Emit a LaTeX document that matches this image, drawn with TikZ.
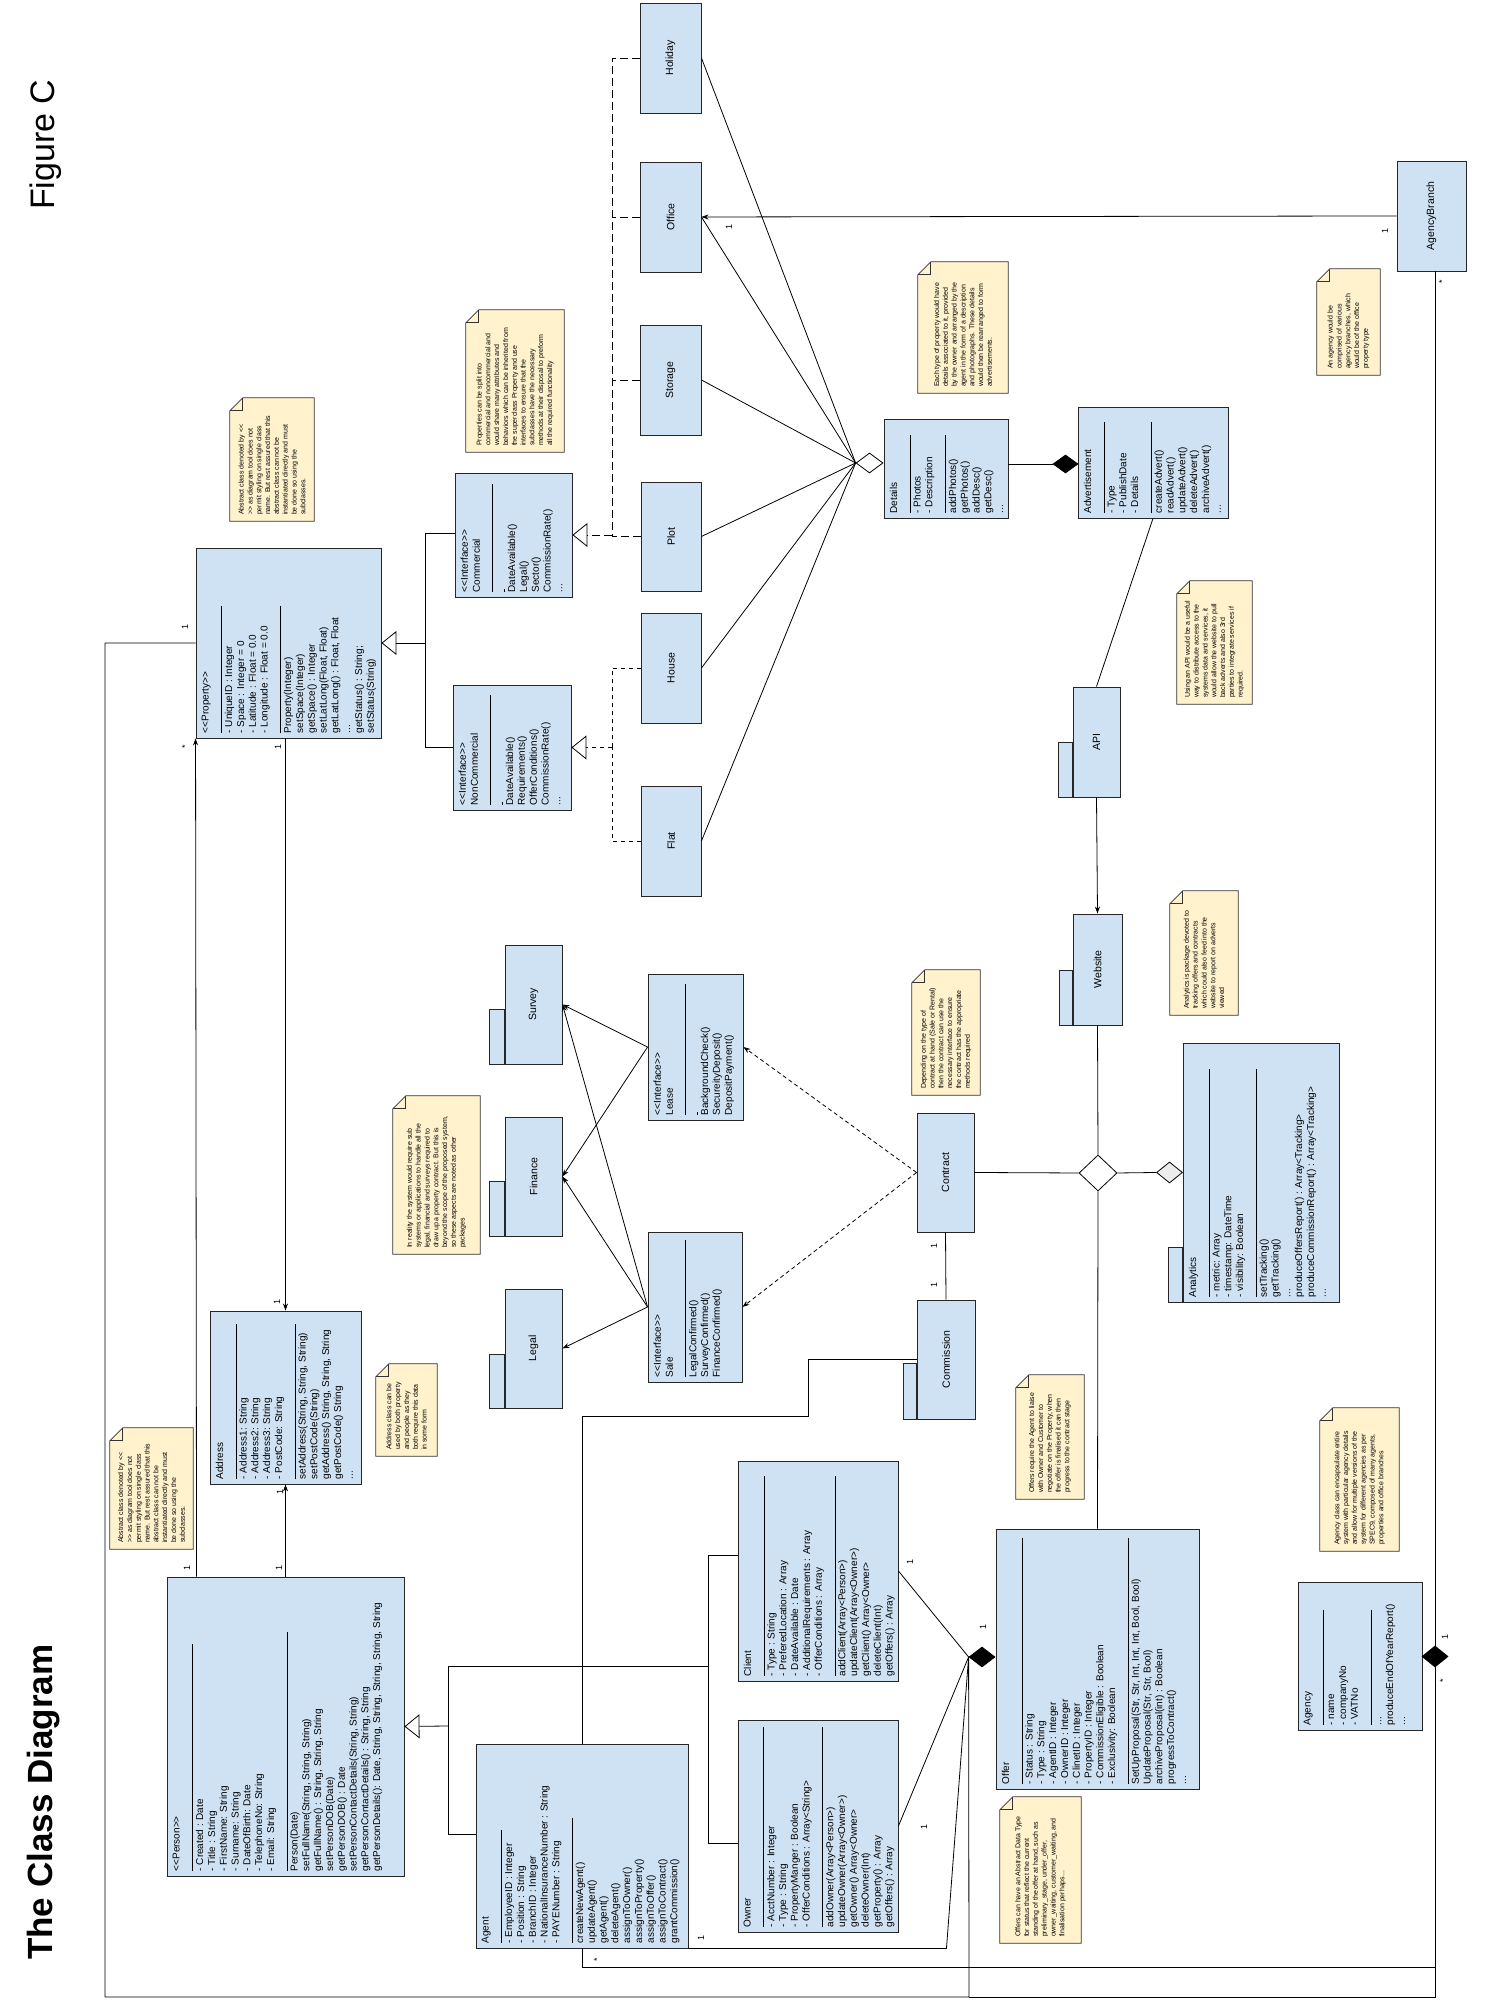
\documentclass[tikz,border=0pt]{standalone}
\usepackage{fontspec}
\setmainfont{Liberation Sans}
\usetikzlibrary{calc,shapes.geometric,arrows.meta}
\definecolor{clsfill}{HTML}{CFE2F3}
\definecolor{notefill}{HTML}{FFF2CC}
\newcommand{\opst}{<\kern0pt<}
\newcommand{\clst}{>\kern0pt>}
\newcommand{\clsep}[1]{\rule[-1.5pt]{#1pt}{0.6pt}}
\newcommand{\notebox}[5]{%
  \node[note, minimum width=#3pt, minimum height=#4pt] (#1) at (#2) {};
  \filldraw[paper] (#1.south west) -- (#1.north west) -- ($(#1.north east)+(-13,0)$)
    -- ($(#1.north east)+(0,-13)$) -- (#1.south east) -- cycle;
  \draw[paper, fill=none] ($(#1.north east)+(-13,0)$) -- ($(#1.north east)+(-13,-13)$)
    -- ($(#1.north east)+(0,-13)$);
  \node[notetxt] (#1t) at ($(#1.west)+(6,0)$) {#5};}
\begin{document}
\begin{tikzpicture}[x=1pt, y=1pt, rotate=90, transform shape]
  \tikzstyle{cls} = [rectangle, draw=black!85, line width=0.9pt, fill=clsfill, inner sep=0pt]
  \tikzstyle{pkg} = [cls, font=\fontsize{10.5}{12}\selectfont]
  \tikzstyle{pkgtab} = [draw=black!85, line width=0.9pt, fill=clsfill]
  \tikzstyle{txt} = [anchor=north west, align=left, inner sep=0pt, font=\fontsize{10}{11.8}\selectfont]
  \tikzstyle{note} = [rectangle, inner sep=0pt]
  \tikzstyle{paper} = [draw=black!80, line width=0.8pt, fill=notefill]
  \tikzstyle{notetxt} = [anchor=west, align=left, inner sep=0pt, font=\fontsize{7}{8.8}\selectfont]
  \tikzstyle{mult} = [inner sep=0pt, font=\fontsize{9}{10}\selectfont]
  \tikzstyle{link} = [draw=black, line width=0.8pt]
  \tikzstyle{dep} = [link, -{Stealth[length=7pt,width=5pt]}]
  \tikzstyle{depd} = [dep, dash pattern=on 4pt off 3pt]
  \tikzstyle{gen} = [link, -{Triangle[open, length=15pt, width=24pt]}]
  \tikzstyle{real} = [link, dash pattern=on 8pt off 4pt]
  \tikzstyle{realb} = [link, dash pattern=on 4pt off 4pt]
  \tikzstyle{dia} = [diamond, draw=black, line width=0.8pt, fill=white, inner sep=0pt]

  \fill[white] (0,0) rectangle (2000,-1490);
  \useasboundingbox (0,0) rectangle (2000,-1490);

  \node[anchor=base west, inner sep=0pt, font=\bfseries\fontsize{35}{40}\selectfont] (title) at (40,-52) {The Class Diagram};
  \node[anchor=base west, inner sep=0pt, font=\fontsize{34}{40}\selectfont] (figlabel) at (1790,-54) {Figure C};

  % notes
  \notebox{nprops}{1619,-515}{142}{98}{Properties can be split into\\ commercial and noncommercial and\\ would share many attributes and\\ behaviors which can be inherited from\\ the superclass Property and use\\ interfaces to ensure that the\\ subclasses have the necessary\\ methods at their disposal to preform\\ all the required functionality}
  \notebox{nabsprop}{1540.5,-272}{123}{84}{Abstract class denoted by \opst\\ \clst{} as diagram tool does not\\ permit styling on single class\\ name. But rest assured that this\\ abstract class can not be\\ instantiated directly and must\\ be done so using the\\ subclasses.}
  \notebox{nabsperson}{511.5,-151.5}{121}{83}{Abstract class denoted by \opst\\ \clst{} as diagram tool does not\\ permit styling on single class\\ name. But rest assured that this\\ abstract class can not be\\ instantiated directly and must\\ be done so using the\\ subclasses.}
  \notebox{naddress}{590,-406.5}{92}{61}{Address class can be\\ used by both property\\ and people as they\\ both require this data\\ in some form}
  \notebox{nlegal}{825,-436.5}{158}{87}{In reality the system would require sub\\ systems or applications to handle all the\\ legal, financial and surveys required to\\ draw up a property contract. But this is\\ beyond the scope of the proposed system,\\ so these aspects are noted as other\\ packages}
  \notebox{ndepend}{967.5,-946}{125}{68}{Depending on the type of\\ contract at hand (Sale or Rental)\\ then the contract can use the\\ necessary interface to ensure\\ the contract has the appropriate\\ methods required}
  \notebox{nanalytics}{1047,-1204}{124}{68}{Analytics is package devoted to\\ tracking offers and contracts\\ which could also feed into the\\ website to report on adverts\\ viewed}
  \notebox{ndetails}{1672.5,-963}{131}{90}{Each type of property would have\\ details associated to it, provided\\ by the owner and arranged by the\\ agent in the form of a description\\ and photographs. These details\\ would then be rearranged to form\\ advertisements.}
  \notebox{napi}{1357.5,-1214.5}{123}{75}{Using an API would be a useful\\ way to distribute access to the\\ systems data and services, it\\ would allow the website to pull\\ back adverts and also 3rd\\ parties to integrate services if\\ required.}
  \notebox{nbranch}{1678,-1348.5}{106}{63}{An agency would be\\ comprised of various\\ agency branches, which\\ would be of the office\\ property type}
  \notebox{noffers}{563,-1050}{124}{68}{Offers require the Agent to liaise\\ with Owner and Customer to\\ negotiate on the Property, when\\ the offer is finalised it can then\\ progress to the contract stage}
  \notebox{nstatus}{130,-1040.5}{146}{81}{Offers can have an Abstract Data Type\\ for status that reflect the current\\ standing of the offer at hand, such as\\ preliminary\_stage, under\_offer,\\ owner\_waiting, customer\_waiting, and\\ finalisation perhaps...}
  \notebox{nagency}{520.5,-1359.5}{143}{79}{Agency class can encapsulate entire\\ system with particular agency details\\ and allow for multiple versions of the\\ system for different agencies as per\\ SPEC9, composed of many agents,\\ properties and office branches}

  % classes
  \node[cls, minimum width=299pt, minimum height=237pt] (person) at (273.5,-285.5) {};
  \node[txt] (persont) at ($(person.north west)+(5,-6)$) {\opst Person\clst\\ \clsep{227}\\ - Created : Date\\ - Title : String\\ - FirstName: String\\ - Surname: String\\ - DateOfBirth: Date\\ - TelephoneNo: String\\ - Email: String\\ \clsep{239}\\ Person(Date)\\ setFullName(String, String, String)\\ getFullName() : String, String, String\\ setPersonDOB(Date)\\ getPersonDOB() : Date\\ setPersonContactDetails(String, String)\\ getPersonContactDetails() : String, String\\ getPersonDetails(): Date, String, String, String, String, String};

  \node[cls, minimum width=204pt, minimum height=212pt] (agent) at (154,-582) {};
  \node[txt] (agentt) at ($(agent.north west)+(5,-6)$) {Agent\\ \clsep{113}\\ - EmployeeID : Integer\\ - Position : String\\ - BranchID : Integer\\ - NationalInsuranceNumber : String\\ - PAYENumber : String\\ \clsep{125}\\ createNewAgent()\\ updateAgent()\\ getAgent()\\ deleteAgent()\\ assignToOwner()\\ assignToProperty()\\ assignToOffer()\\ assignToContract()\\ grantCommission()};

  \node[cls, minimum width=220pt, minimum height=160pt] (client) at (429,-818) {};
  \node[txt] (clientt) at ($(client.north west)+(5,-6)$) {Client\\ \clsep{200}\\ - Type : String\\ - PreferedLocation : Array\\ - DateAvailable : Date\\ - AdditionalRequirements : Array\\ - OfferConditions : Array\\ \clsep{200}\\ addClient(Array<Person>)\\ updateClient(Array<Owner>)\\ getClient() Array<Owner>\\ deleteClient(Int)\\ getOffers() : Array};

  \node[cls, minimum width=212pt, minimum height=160pt] (owner) at (174,-818) {};
  \node[txt] (ownert) at ($(owner.north west)+(5,-6)$) {Owner\\ \clsep{200}\\ - AcctNumber : Integer\\ - Type : String\\ - PropertyManger : Boolean\\ - OfferConditions : Array<String>\\ \clsep{200}\\ addOwner(Array<Person>)\\ updateOwner(Array<Owner>)\\ getOwner() Array<Owner>\\ deleteOwner(Int)\\ getProperty() : Array\\ getOffers() : Array};

  \node[cls, minimum width=260pt, minimum height=203pt] (offer) at (341,-1097.5) {};
  \node[txt] (offert) at ($(offer.north west)+(5,-6)$) {Offer\\ \clsep{246}\\ - Status : String\\ - Type : String\\ - AgentID : Integer\\ - OwnerID : Integer\\ - ClinetID : Integer\\ - PropertyID : Integer\\ - CommissionEligible : Boolean\\ - Exclusivity: Boolean\\ \clsep{246}\\ SetUpProposal(Str, Str, Int, Int, Int, Bool, Bool)\\ UpdateProposal(Str, Str, Bool)\\ archiveProposal(int) : Boolean\\ progressToContract()\\ ...};

  \node[cls, minimum width=148pt, minimum height=124pt] (agency) at (344,-1360) {};
  \node[txt] (agencyt) at ($(agency.north west)+(5,-6)$) {Agency\\ \clsep{115}\\ - name\\ - companyNo\\ - VATNo\\ \clsep{115}\\ ...\\ produceEndOfYearReport()\\ ...};

  \node[cls, minimum width=173pt, minimum height=151pt] (address) at (602.5,-285.5) {};
  \node[txt] (addresst) at ($(address.north west)+(5,-6)$) {Address\\ \clsep{155}\\ - Address1: String\\ - Address2: String\\ - Address3: String\\ - PostCode: String\\ \clsep{155}\\ setAddress(String, String, String)\\ setPostCode(String)\\ getAddress() String, String, String\\ getPostCode() String\\ ...};

  \node[cls, minimum width=190pt, minimum height=185pt] (property) at (1357,-288.5) {};
  \node[txt] (propertyt) at ($(property.north west)+(5,-6)$) {\opst Property\clst\\ \clsep{127}\\ - UniqueID : Integer\\ - Space : Integer = 0\\ - Latitude : Float = 0.0\\ - Longitude : Float = 0.0\\ \clsep{127}\\ Property(Integer)\\ setSpace(Integer)\\ getSpace() : Integer\\ setLatLong(Float, Float)\\ getLatLong() : Float, Float\\ ...\\ getStatus() : String;\\ setStatus(String)};

  \node[cls, minimum width=124pt, minimum height=117pt] (commercial) at (1465,-513.5) {};
  \node[txt] (commercialt) at ($(commercial.north west)+(5,-6)$) {\opst Interface\clst\\ Commercial\\ \clsep{108}\\ \clsep{3}\\ DateAvailable()\\ Legal()\\ Sector()\\ CommissionRate()\\ ...};

  \node[cls, minimum width=125pt, minimum height=118pt] (noncommercial) at (1252.5,-512) {};
  \node[txt] (noncommercialt) at ($(noncommercial.north west)+(5,-6)$) {\opst Interface\clst\\ NonCommercial\\ \clsep{110}\\ \clsep{3}\\ DateAvailable()\\ Requirements()\\ OfferConditions()\\ CommissionRate()\\ ...};

  \node[cls, minimum width=146pt, minimum height=95pt] (lease) at (953,-695.5) {};
  \node[txt] (leaset) at ($(lease.north west)+(5,-6)$) {\opst Interface\clst\\ Lease\\ \clsep{131}\\ \clsep{3}\\ BackgroundCheck()\\ SecureityDeposit()\\ DepositPayment()};

  \node[cls, minimum width=150pt, minimum height=94pt] (sale) at (693,-695) {};
  \node[txt] (salet) at ($(sale.north west)+(5,-6)$) {\opst Interface\clst\\ Sale\\ \clsep{137}\\ LegalConfirmed()\\ SurveyConfirmed()\\ FinanceConfirmed()};

  \node[cls, minimum width=99pt, minimum height=124pt] (details) at (1531.5,-946) {};
  \node[txt] (detailst) at ($(details.north west)+(5,-6)$) {Details\\ \clsep{78}\\ - Photos\\ - Description\\ \clsep{78}\\ addPhotos()\\ getPhotos()\\ addDesc()\\ getDesc()\\ ...};

  \node[cls, minimum width=111pt, minimum height=150pt] (advertisement) at (1537.5,-1153) {};
  \node[txt] (advertisementt) at ($(advertisement.north west)+(5,-6)$) {Advertisement\\ \clsep{91}\\ - Type\\ - PublishDate\\ - Details\\ \clsep{91}\\ createAdvert()\\ readAdvert()\\ updateAdvert()\\ deleteAdvert()\\ archiveAdvert()\\ ...};

  % property types
  \node[pkg, minimum width=110pt, minimum height=61pt] (holiday) at (1942,-670.5) {Holiday};
  \node[pkg, minimum width=110pt, minimum height=61pt] (office) at (1783,-670.5) {Office};
  \node[pkg, minimum width=110pt, minimum height=61pt] (storage) at (1620,-670.5) {Storage};
  \node[pkg, minimum width=109pt, minimum height=60pt] (plot) at (1463.5,-671) {Plot};
  \node[pkg, minimum width=110pt, minimum height=60pt] (house) at (1332,-671) {House};
  \node[pkg, minimum width=110pt, minimum height=60pt] (flat) at (1159,-671) {Flat};
  \node[pkg, minimum width=110pt, minimum height=69pt] (agencybranch) at (1784,-1431.5) {AgencyBranch};
  \node[pkg, minimum width=119pt, minimum height=57pt] (contract) at (827.5,-945.5) {Contract};

  % packages
  \node[pkg, minimum width=119pt, minimum height=57pt] (survey) at (995.5,-533.5) {Survey};
  \draw[pkgtab] (survey.north west) rectangle ++(55,15);
  \node[pkg, minimum width=119pt, minimum height=57pt] (finance) at (823.5,-533.5) {Finance};
  \draw[pkgtab] (finance.north west) rectangle ++(55,15);
  \node[pkg, minimum width=119pt, minimum height=57pt] (legal) at (651.5,-533.5) {Legal};
  \draw[pkgtab] (legal.north west) rectangle ++(54,15);
  \node[pkg, minimum width=119pt, minimum height=58pt] (commission) at (640.5,-946) {Commission};
  \draw[pkgtab] (commission.north west) rectangle ++(56,13);
  \node[pkg, minimum width=111pt, minimum height=49pt] (website) at (1030.5,-1097.5) {Website};
  \draw[pkgtab] (website.north west) rectangle ++(55,13);
  \node[pkg, minimum width=110pt, minimum height=47pt] (api) at (1258,-1096.5) {API};
  \draw[pkgtab] (api.north west) rectangle ++(55,14);
  \node[cls, minimum width=259pt, minimum height=156pt] (analytics) at (827.5,-1261) {};
  \draw[pkgtab] (analytics.north west) rectangle ++(55,14);
  \node[txt] (analyticst) at ($(analytics.north west)+(5,-6)$) {Analytics\\ \clsep{228}\\ - metric: Array\\ - timestamp: DateTime\\ - visibility: Boolean\\ \clsep{228}\\ setTracking()\\ getTracking()\\ ...\\ produceOffersReport() : Array<Tracking>\\ produceCommissionReport() : Array<Tracking>\\ ...};

  % diamonds
  \node[dia, fill=black, minimum width=20pt, minimum height=26pt] (doffer) at (343,-982) {};
  \node[dia, fill=black, minimum width=21pt, minimum height=26pt] (dagency) at (343.5,-1435) {};
  \node[dia, minimum width=20pt, minimum height=27pt] (ddetails) at (1537,-869.5) {};
  \node[dia, fill=black, minimum width=18pt, minimum height=25pt] (dadvert) at (1536,-1065.5) {};
  \node[dia, minimum width=36pt, minimum height=38pt] (dcontract) at (827,-1098) {};
  \node[dia, fill=gray!15, minimum width=21pt, minimum height=26pt] (dana) at (827.5,-1169.5) {};

  \coordinate (genp) at (274,-448);
  \coordinate (genq) at (1357,-425);
  \coordinate (rcom) at (1465,-612);
  \coordinate (rnon) at (1252.5,-612);
  \coordinate (lowleft) at (3,-105);
  \coordinate (lowmid) at (3,-969);

  % generalisation
  \draw[gen] (genp) -- (person.south);
  \draw[link] ($(agent.north)+(12,0)$) -- (166,-448) -- (334,-448) -- (334,-708);
  \draw[link] ($(client.north)+(16,0)$) -- (445,-708) -- (157,-708) -- ($(owner.north)+(-17,0)$);
  \draw[gen] (genq) -- (property.south);
  \draw[link] ($(commercial.north)+(2,0)$) -- (1467,-425) -- (1252.5,-425) -- (noncommercial.north);

  % realisation
  \draw[real] (holiday.north) |- (rcom);
  \draw[real] (office.north) -- (office.north |- rcom);
  \draw[real] (storage.north) -- (storage.north |- rcom);
  \draw[real] (plot.north) |- (rcom);
  \draw[real, -{Triangle[open, length=15pt, width=24pt]}] (rcom) -- (commercial.south);
  \draw[realb] (house.north) |- (rnon);
  \draw[realb] (flat.north) |- (rnon);
  \draw[realb, -{Triangle[open, length=15pt, width=24pt]}] (rnon) -- (noncommercial.south);

  % details aggregation
  \draw[link] (holiday.south) -- (ddetails.north);
  \draw[link] (office.south) -- (ddetails.north);
  \draw[link] (storage.south) -- (ddetails.north);
  \draw[link] (plot.south) -- (ddetails.north);
  \draw[link] (house.south) -- (ddetails.north);
  \draw[link] (flat.south) -- (ddetails.north);
  \draw[link] (details.south -| dadvert.north) -- (dadvert.north);
  \draw[link] (advertisement.west) -- (api.east);
  \draw[dep] (api.west) -- (website.east);
  \draw[link] (website.west) -- (dcontract.east);
  \draw[link] (contract.south) -- (dcontract.north);
  \draw[link] (dcontract.west) -- (offer.east);
  \draw[link] (dcontract.south) -- (dana.north);

  % contract side
  \draw[depd] (contract.north) -- (lease.south);
  \draw[depd] (contract.north) -- (sale.south);
  \draw[dep] (lease.north) -- (survey.south);
  \draw[dep] (lease.north) -- (finance.south);
  \draw[dep] (sale.north) -- (survey.south);
  \draw[dep] (sale.north) -- (finance.south);
  \draw[dep] (sale.north) -- (legal.south);
  \draw[link] (contract.west) -- (commission.east);
  \draw[link] (commission.north) |- (584,-808) |- (agent.east);

  % people, property, offer, agency
  \draw[dep] ($(person.north east)+(0,-30)$) -- (property.north west);
  \draw[dep] (person.east) -- (address.west);
  \draw[dep] (property.west |- address.east) -- (address.east);
  \draw[link] (client.south) -- (doffer.north);
  \draw[link] (owner.south) -- (doffer.north);
  \draw[link] (agent.south west) -- ++(0,-258) -- (doffer.north);
  \draw[link] (property.north) |- (lowleft) -- (lowmid) -- (doffer.north);
  \draw[link] (lowmid) |- (dagency.west);
  \draw[link] (agent.west) -- ++(-19,0) |- (dagency.west);
  \draw[link] (agencybranch.west |- dagency.east) -- (dagency.east);
  \draw[dep] (agencybranch.north) -- (office.south);

  % multiplicities
  \node[mult] (m1) at (432,-187) {1};
  \node[mult] (m2) at (1253,-185) {*};
  \node[mult] (m3) at (432,-279) {1};
  \node[mult] (m4) at (508,-280) {1};
  \node[mult] (m5) at (1253,-278) {1};
  \node[mult] (m6) at (698,-277) {1};
  \node[mult] (m7) at (1373,-185) {1};
  \node[mult] (m8) at (1773,-729) {1};
  \node[mult] (m9) at (1769,-1385) {1};
  \node[mult] (m10) at (1718,-1442) {*};
  \node[mult] (m11) at (363,-1445) {1};
  \node[mult] (m12) at (319,-1443) {*};
  \node[mult] (m13) at (438,-910) {1};
  \node[mult] (m14) at (373,-983) {1};
  \node[mult] (m15) at (173,-924) {1};
  \node[mult] (m16) at (62,-701) {1};
  \node[mult] (m17) at (40,-597) {*};
  \node[mult] (m18) at (754,-934) {1};
  \node[mult] (m19) at (715,-934) {1};
\end{tikzpicture}
\end{document}
